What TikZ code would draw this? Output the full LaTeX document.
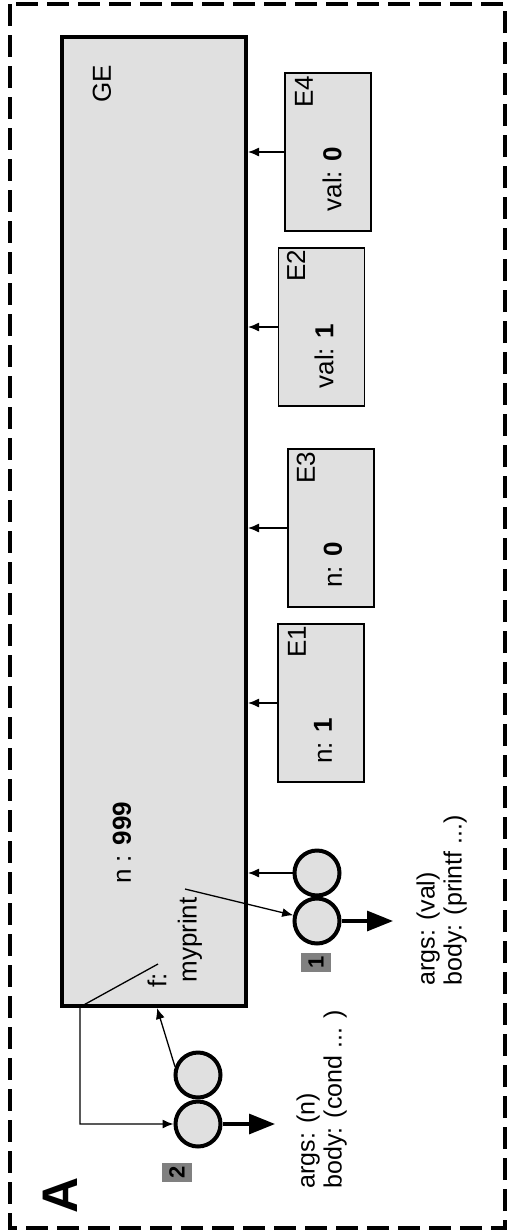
\documentclass[tikz,border=0pt]{standalone}
\usepackage{fontspec}
\setmainfont{Liberation Sans}
\usetikzlibrary{positioning, arrows.meta}

\begin{document}
\begin{tikzpicture}[x=0.5pt, y=-0.5pt,
  marco/.style={line width=1.6pt, dash pattern=on 11pt off 4.5pt},
  global/.style={draw, line width=2pt, fill=black!12, minimum width=92pt, minimum height=484.5pt, inner sep=0pt},
  entorno/.style={draw, line width=0.9pt, fill=black!12, minimum width=43pt, minimum height=79pt, inner sep=0pt},
  burbuja/.style={circle, draw, line width=2pt, fill=black!12, minimum size=22.5pt, inner sep=0pt},
  texto/.style={rotate=90, font=\fontsize{13}{15}\selectfont, inner sep=0pt},
  puntero/.style={-{Latex[length=5.5pt, width=4.5pt]}, line width=0.65pt},
  retorno/.style={-{Triangle[length=13pt, width=10pt]}, line width=1.6pt},
  marca/.style={rotate=90, fill=black!50, font=\bfseries\fontsize{11}{11}\selectfont, minimum width=9.5pt, minimum height=15pt, inner sep=0pt}
]

\useasboundingbox (0,0) rectangle (508,1232);
\draw[marco] (10,4) rectangle (505,1228);

% ---------- ENTORNO GLOBAL ----------

\node[global] (ge) at (154,521.5) {};
\node[texto] (lblge) at (102,84) {GE};
\node[texto] (varn) at (122,843) {n : \textbf{999}};
\node[texto] (varf) at (157,980) {f:};
\node[texto] (varm) at (190,940) {myprint};

% ---------- ENTORNOS E1 - E4 ----------

\node[entorno] (e4) at (328,152) {};
\node[texto] (e4n) at (304,92) {E4};
\node[texto] (e4v) at (332,179) {val: \textbf{0}};

\node[entorno] (e2) at (321.5,327) {};
\node[texto] (e2n) at (296,266) {E2};
\node[texto] (e2v) at (324,356) {val: \textbf{1}};

\node[entorno] (e3) at (331,528) {};
\node[texto] (e3n) at (306,468) {E3};
\node[texto] (e3v) at (333,565) {n: \textbf{0}};

\node[entorno] (e1) at (321,703) {};
\node[texto] (e1n) at (297,642) {E1};
\node[texto] (e1v) at (323,741) {n: \textbf{1}};

\draw[puntero] (e4.west) -- (e4.west -| ge.east);
\draw[puntero] (e2.west) -- (e2.west -| ge.east);
\draw[puntero] (e3.west) -- (e3.west -| ge.east);
\draw[puntero] (e1.west) -- (e1.west -| ge.east);

% ---------- CLAUSURAS ----------

\node[burbuja] (clo1b) at (317,873) {};
\node[burbuja] (clo1a) at (317,921) {};
\node[marca] (tag1) at (316,962) {1};
\node[texto, align=left, anchor=north west, font=\fontsize{12.5}{13.5}\selectfont] (args1) at (416,986) {args: (val)\\body: (printf ...)};

\node[burbuja] (clo2b) at (198,1075) {};
\node[burbuja] (clo2a) at (198,1124) {};
\node[marca] (tag2) at (177,1172) {2};
\node[texto, align=left, anchor=north west, font=\fontsize{12.5}{13.5}\selectfont] (args2) at (296,1189) {args: (n)\\body: (cond ... )};

\node[rotate=90, inner sep=0pt, font=\bfseries\fontsize{25}{25}\selectfont] (etiqa) at (60,1195) {A};

% ---------- PUNTEROS ----------

\coordinate (ranuraf) at (158,964);
\coordinate (ranuram) at (185,889);
\coordinate (codo) at (80,1007);
\coordinate (fondo) at (157,1008);
\coordinate (sal1) at (393,921);
\coordinate (sal2) at (275,1124);

\draw[puntero] (ranuraf) -- (codo) |- (clo2a);
\draw[puntero] (clo2b.160) -- (fondo);
\draw[puntero] (clo1b) -- (clo1b -| ge.east);
\draw[puntero] (ranuram) -- (clo1a);
\draw[retorno] (clo1a) -- (sal1);
\draw[retorno] (clo2a) -- (sal2);

\end{tikzpicture}
\end{document}
